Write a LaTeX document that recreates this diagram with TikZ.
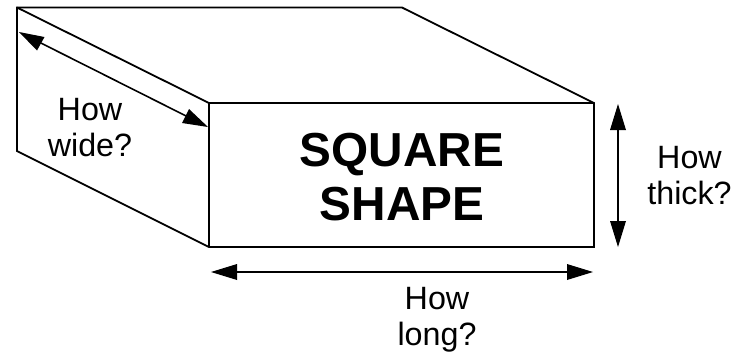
\documentclass[tikz,border=0pt]{standalone}
\usepackage{fontspec}
\setmainfont{Liberation Sans}
\tikzset{
 px/.style={x=0.75pt,y=-0.75pt},
 edge/.style={draw=black,line width=1.35pt,line join=miter},
 dim/.style={draw=black,line width=1.2pt},
 lab/.style={font=\fontsize{24.2pt}{27pt}\selectfont,align=center,inner sep=0pt},
 big/.style={font=\fontsize{35.8pt}{41pt}\selectfont\bfseries,align=center,inner sep=0pt},
}
\begin{document}
\begin{tikzpicture}[px]
\useasboundingbox (0,0) rectangle (753,355);
\fill[white] (0,0) rectangle (753,355);
\coordinate (a) at (17,7.5);
\coordinate (b) at (402,7.5);
\coordinate (c) at (594,103);
\coordinate (d) at (209,103);
\coordinate (e) at (209,247);
\coordinate (f) at (594,247);
\coordinate (g) at (17,151);
\draw[edge] (a)--(b)--(c)--(f)--(e)--(g)--cycle;
\draw[edge] (a)--(d)--(c);
\draw[edge] (d)--(e);
\coordinate (w1) at (19,32);
\coordinate (w2) at (208,127);
\draw[dim,shorten >=14pt,shorten <=14pt] (w1)--(w2);
\fill (w1)--(44.5,37)--(37,50.5)--cycle;
\fill (w2)--(189,109)--(182,123)--cycle;
\coordinate (t1) at (618,104);
\coordinate (t2) at (618,247);
\draw[dim,shorten >=14pt,shorten <=14pt] (t1)--(t2);
\fill (t1)--(626,130)--(610,130)--cycle;
\fill (t2)--(626,221)--(610,221)--cycle;
\coordinate (l1) at (211,272);
\coordinate (l2) at (593,272);
\draw[dim,shorten >=14pt,shorten <=14pt] (l1)--(l2);
\fill (l1)--(237,264)--(237,280)--cycle;
\fill (l2)--(567,264)--(567,280)--cycle;
\node[big] (title) at (402,177) {SQUARE\\SHAPE};
\node[lab] (wide) at (90,127.5) {How\\wide?};
\node[lab] (thick) at (689.5,175.5) {How\\thick?};
\node[lab] (long) at (437,320) {How\\long?};
\end{tikzpicture}
\end{document}
